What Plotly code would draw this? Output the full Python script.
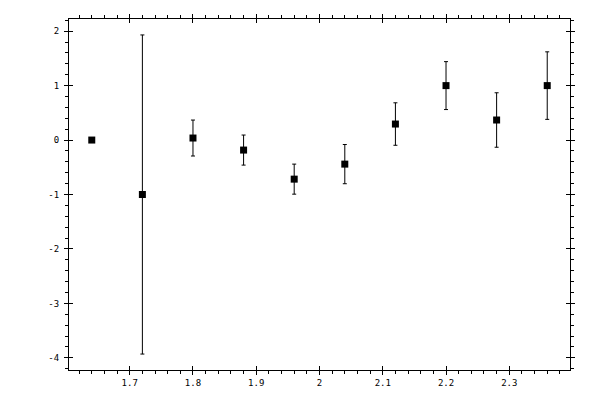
import plotly.graph_objects as go

# values
x_vals = [1.64, 1.72, 1.80, 1.88, 1.96, 2.04, 2.12, 2.20, 2.28, 2.36]
y_vals = [0.0, -1.0, 0.037, -0.184, -0.718, -0.442, 0.294, 1.0, 0.368, 1.0]
y_err = [0.0, 2.93, 0.33, 0.276, 0.276, 0.36, 0.39, 0.44, 0.50, 0.62]

x_ticks = [1.7, 1.8, 1.9, 2.0, 2.1, 2.2, 2.3]
x_labels = ["1.7", "1.8", "1.9", "2", "2.1", "2.2", "2.3"]
y_ticks = [-4, -3, -2, -1, 0, 1, 2]
y_labels = ["-4", "-3", "-2", "-1", "0", "1", "2"]

# 5% padding around data (incl. error bars)
lo = min(v - e for v, e in zip(y_vals, y_err))
hi = max(v + e for v, e in zip(y_vals, y_err))
pad_y = (hi - lo) * 0.05
pad_x = (max(x_vals) - min(x_vals)) * 0.05
xr = [min(x_vals) - pad_x, max(x_vals) + pad_x]
yr = [lo - pad_y, hi + pad_y]

font = dict(family="DejaVu Sans Mono", size=9, color="black")

fig = go.Figure()
fig.add_trace(go.Scatter(
    x=x_vals, y=y_vals, mode="markers",
    marker=dict(symbol="square", size=7, color="black"),
    error_y=dict(type="data", array=y_err, color="black", thickness=1, width=2),
    showlegend=False, hoverinfo="skip",
))
# invisible copy so the overlay axes (inner half of major ticks) exist
fig.add_trace(go.Scatter(
    x=x_vals, y=y_vals, mode="markers", marker=dict(opacity=0),
    xaxis="x2", yaxis="y2", showlegend=False, hoverinfo="skip",
))

common = dict(showgrid=False, zeroline=False, color="black", automargin=False)
# page body adds an 8px offset, so the figure is a bit smaller
fig.update_layout(
    width=592, height=392,
    margin=dict(l=61, r=30, t=11, b=30, autoexpand=False),
    paper_bgcolor="white", plot_bgcolor="white",
    font=font,
    xaxis=dict(
        range=xr, tickvals=x_ticks, ticktext=x_labels,
        ticks="outside", ticklen=4, tickwidth=1, tickcolor="black",
        showline=True, linecolor="black", linewidth=1, mirror="ticks",
        minor=dict(dtick=0.02, tick0=1.6, ticks="outside", ticklen=3, tickcolor="black"),
        tickfont=font, **common,
    ),
    yaxis=dict(
        range=yr, tickvals=y_ticks, ticktext=y_labels,
        ticks="outside", ticklen=4, tickwidth=1, tickcolor="black",
        showline=True, linecolor="black", linewidth=1, mirror="ticks",
        minor=dict(dtick=0.2, tick0=0, ticks="outside", ticklen=3, tickcolor="black"),
        tickfont=font, ticklabelstandoff=3, **common,
    ),
    xaxis2=dict(
        overlaying="x", range=xr, tickvals=x_ticks, showticklabels=False,
        ticks="inside", ticklen=4, tickcolor="black", mirror="ticks",
        showline=False, **common,
    ),
    yaxis2=dict(
        overlaying="y", range=yr, tickvals=y_ticks, showticklabels=False,
        ticks="inside", ticklen=4, tickcolor="black", mirror="ticks",
        showline=False, **common,
    ),
)

fig.write_html("out.html")
